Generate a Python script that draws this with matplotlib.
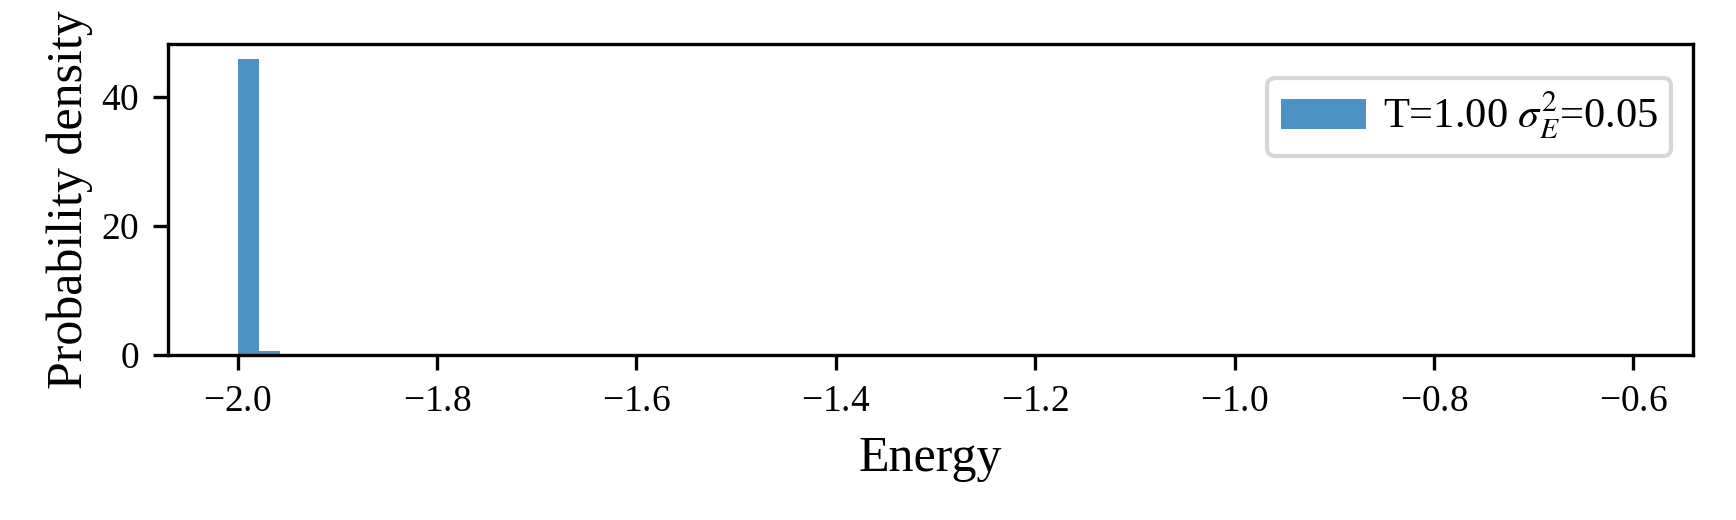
import numpy as np
import matplotlib.pyplot as plt

energy_min = -2.0
energy_max = -0.61
n_bins = 66
densities = [45.9, 0.6] + [0.0] * 64
label = r'T=1.00 $\sigma_E^2$=0.05'

def main():
    plt.rcParams['font.family'] = ['Liberation Serif', 'DejaVu Serif']
    plt.rcParams['mathtext.fontset'] = 'stix'
    plt.rcParams['axes.formatter.use_mathtext'] = True

    edges = np.linspace(energy_min, energy_max, n_bins + 1)
    centers = (edges[:-1] + edges[1:]) / 2

    fig, ax = plt.subplots(figsize=(1736 / 300, 520 / 300), dpi=300)
    ax.hist(centers, bins=edges, weights=densities, color='tab:blue', alpha=0.8, label=label)

    ax.set_xlabel('Energy', fontsize=12)
    ax.set_ylabel('Probability density', fontsize=12, labelpad=2)
    ax.tick_params(labelsize=9)
    ax.legend(loc='upper right', bbox_to_anchor=(1, 0.96), fontsize=10.2,
              borderpad=0.32, handletextpad=0.4)

    fig.subplots_adjust(left=0.097, right=0.975, top=0.915, bottom=0.317)
    fig.savefig('out.png')

if __name__ == "__main__":
    main()
